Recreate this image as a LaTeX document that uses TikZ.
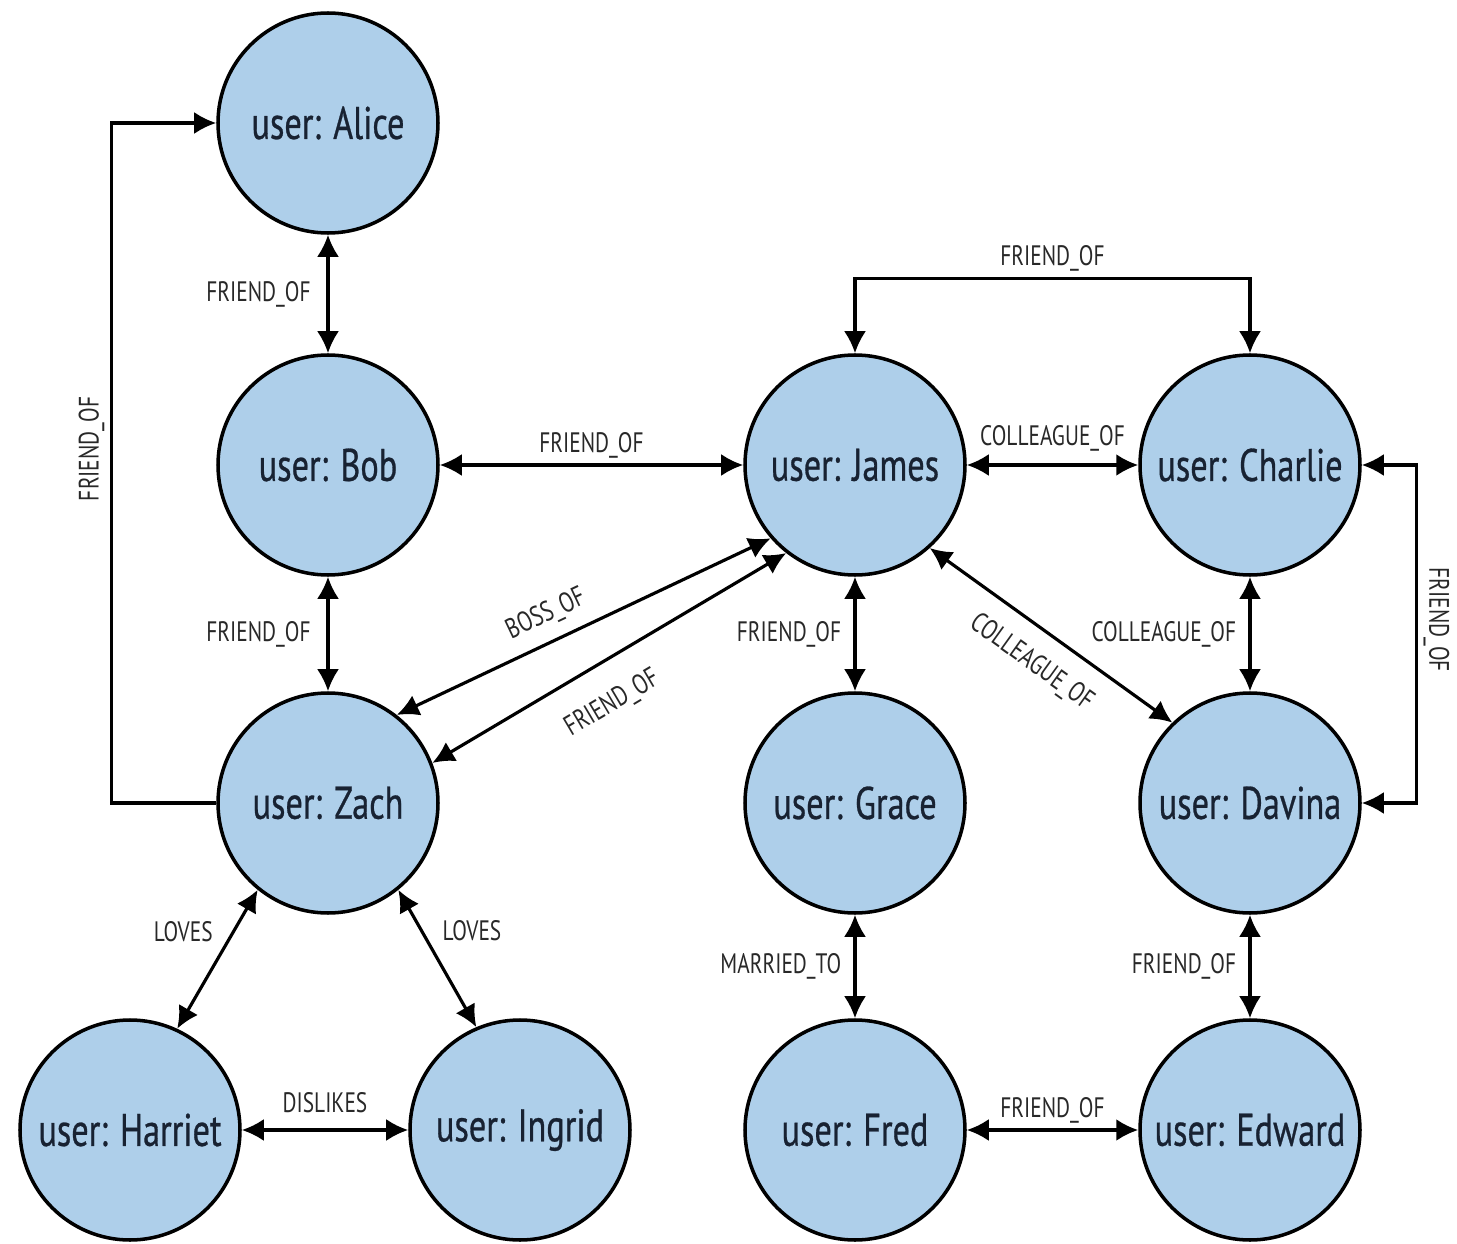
\documentclass[tikz,border=0pt]{standalone}
\usepackage{fontspec}
\setmainfont[FakeStretch=0.76]{PT Sans}
\newfontfamily\userfont[FakeStretch=0.75,FakeBold=0.6]{PT Sans}
\usepackage{tikz}
\usetikzlibrary{arrows.meta}
\usetikzlibrary{calc}
\definecolor{nodeblue}{RGB}{174,207,234}
\definecolor{nodetext}{RGB}{24,34,50}
\definecolor{lbltext}{RGB}{40,40,40}
\tikzset{
  user/.style={circle,draw=black,line width=1pt,fill=nodeblue,minimum size=2.2cm,inner sep=0pt,
    text=nodetext,font=\userfont\fontsize{13}{15}\selectfont},
  lbl/.style={text=lbltext,font=\fontsize{8}{9}\selectfont,inner sep=1.5pt},
  rel/.style={line width=0.9pt,black}
}

\begin{document}
\begin{tikzpicture}[>={Latex[length=2.2mm,width=2.2mm]}]
  \useasboundingbox (0,0) rectangle (14.57,12.43);
  \foreach \n/\t/\x/\y in {alice/Alice/3.28/11.20, bob/Bob/3.28/7.78, zach/Zach/3.28/4.40,
      harriet/Harriet/1.30/1.13, ingrid/Ingrid/5.20/1.13, james/James/8.55/7.78,
      grace/Grace/8.55/4.40, fred/Fred/8.55/1.13, charlie/Charlie/12.50/7.78,
      davina/Davina/12.50/4.40, edward/Edward/12.50/1.13}
    \node[user] (\n) at (\x,\y) {user: \t};
  % left column
  \draw[rel,<->] (alice) -- node[lbl,left=3pt] {FRIEND\_OF} (bob);
  \draw[rel,<->] (bob) -- node[lbl,left=3pt] {FRIEND\_OF} (zach);
  \draw[rel,->] (zach.west) -- ++(-1.05,0) |- node[lbl,pos=0.25,above=4pt,rotate=90] {FRIEND\_OF} (alice.west);
  \draw[rel,<->] (bob) -- node[lbl,above=0pt] {FRIEND\_OF} (james);
  \draw[rel,<->] (zach.52) -- node[lbl,pos=0.43,sloped,above=2pt] {BOSS\_OF} (james.221);
  \draw[rel,<->] (zach.21) -- node[lbl,pos=0.45,sloped,below=6pt] {FRIEND\_OF} (james.232);
  \draw[rel,<->] (zach.231) -- node[lbl,pos=0.3,left=4pt] {LOVES} (harriet.65);
  \draw[rel,<->] (zach.-51) -- node[lbl,pos=0.3,right=4pt] {LOVES} (ingrid.113);
  \draw[rel,<->] (harriet) -- node[lbl,above=3pt] {DISLIKES} (ingrid);
  % right part
  \draw[rel,<->] (james.north) -- ++(0,0.75) -| node[lbl,pos=0.25,above=0pt] {FRIEND\_OF} (charlie.north);
  \draw[rel,<->] (james) -- node[lbl,above=2pt] {COLLEAGUE\_OF} (charlie);
  \draw[rel,<->] (charlie.east) -- ++(0.55,0) |- node[lbl,pos=0.25,above=4pt,rotate=-90] {FRIEND\_OF} (davina.east);
  \draw[rel,<->] (charlie) -- node[lbl,left=2pt] {COLLEAGUE\_OF} (davina);
  \draw[rel,<->] (james.-48) -- node[lbl,sloped,below=4pt] {COLLEAGUE\_OF} (davina.134);
  \draw[rel,<->] (james) -- node[lbl,left=2pt] {FRIEND\_OF} (grace);
  \draw[rel,<->] (grace) -- node[lbl,left=2pt] {MARRIED\_TO} (fred);
  \draw[rel,<->] (davina) -- node[lbl,left=2pt] {FRIEND\_OF} (edward);
  \draw[rel,<->] (fred) -- node[lbl,above=0pt] {FRIEND\_OF} (edward);
\end{tikzpicture}
\end{document}
